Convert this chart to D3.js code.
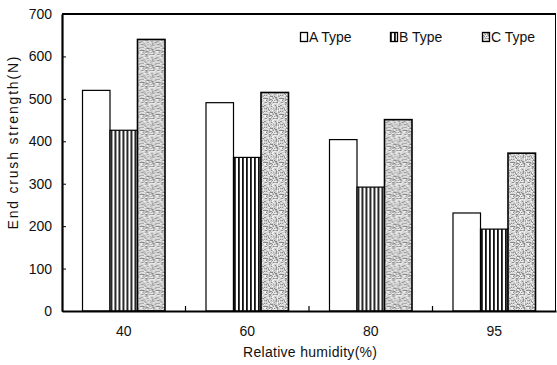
<!DOCTYPE html>
<html>
<head>
<meta charset="utf-8">
<script src="https://cdn.jsdelivr.net/npm/d3@7"></script>
<style>
    body { margin: 0; background: #fff; }
    svg { display: block; font-family: "Liberation Sans", Arial, sans-serif; }
</style>
</head>
<body>
<div id="chart"></div>
<script>
var humidity = ['40', '60', '80', '95']
var seriesNames = ['A Type', 'B Type', 'C Type']
var aType = [520, 491, 404, 231]
var bType = [426, 362, 292, 193]
var cType = [640, 515, 451, 372]
var yTicks = [0, 100, 200, 300, 400, 500, 600, 700]

var width = 557, height = 365
var margin = {top: 14, right: 1, bottom: 54, left: 62}

var svg = d3.select('#chart').append('svg')
    .attr('width', width)
    .attr('height', height)

var defs = svg.append('defs')

// vertical stripes for B
var stripes = defs.append('pattern')
    .attr('id', 'stripes')
    .attr('patternUnits', 'userSpaceOnUse')
    .attr('width', 4).attr('height', 4)
stripes.append('rect').attr('width', 4).attr('height', 4).attr('fill', '#fff')
stripes.append('rect').attr('x', 0).attr('width', 1.8).attr('height', 4).attr('fill', '#111')

// grey stipple for C (a fixed hashed tile, texture only)
var tile = 16
var stipple = defs.append('pattern')
    .attr('id', 'stipple')
    .attr('patternUnits', 'userSpaceOnUse')
    .attr('width', tile).attr('height', tile)
stipple.append('rect').attr('width', tile).attr('height', tile).attr('fill', '#cfcfcf')
for (var py = 0; py < tile; ++py) {
    for (var px = 0; px < tile; ++px) {
        var h = ((px * 73856093) ^ (py * 19349663) ^ ((px + py) * 83492791)) >>> 0
        h = (h * 2654435761) >>> 0
        var r = (h >>> 8) % 100
        var c = null
        if (r < 14) c = '#8a8a8a'
        else if (r < 30) c = '#a8a8a8'
        else if (r < 45) c = '#e6e6e6'
        else if (r < 55) c = '#f4f4f4'
        if (c)
            stipple.append('rect')
                .attr('x', px).attr('y', py)
                .attr('width', 1).attr('height', 1)
                .attr('fill', c)
    }
}

var fills = ['#fff', 'url(#stripes)', 'url(#stipple)']

var x0 = d3.scaleBand()
    .domain(humidity)
    .range([margin.left, width - margin.right])
    .paddingInner(0.332)
    .paddingOuter(0.166)

var x1 = d3.scaleBand()
    .domain(seriesNames)
    .range([0, x0.bandwidth()])

var y = d3.scaleLinear()
    .domain([0, 700])
    .range([height - margin.bottom, margin.top])

var rows = humidity.map(function(h, i) {
    return {h: h, values: [aType[i], bType[i], cType[i]]}
})

// bars
var groups = svg.append('g').selectAll('g')
    .data(rows)
    .enter().append('g')
    .attr('transform', function(d) { return 'translate(' + x0(d.h) + ',0)' })

groups.selectAll('rect')
    .data(function(d) { return d.values.map(function(v, k) { return {k: k, v: v} }) })
    .enter().append('rect')
    .attr('x', function(d) { return x1(seriesNames[d.k]) })
    .attr('y', function(d) { return y(d.v) })
    .attr('width', x1.bandwidth())
    .attr('height', function(d) { return y(0) - y(d.v) })
    .attr('fill', function(d) { return fills[d.k] })
    .attr('stroke', '#000')
    .attr('stroke-width', function(d) { return d.k === 2 ? 1.6 : 1.2 })

// frame
var x0px = margin.left, x1px = width - margin.right
svg.append('line').attr('x1', x0px).attr('x2', x1px).attr('y1', y(700)).attr('y2', y(700))
    .attr('stroke', '#000').attr('stroke-width', 2)
svg.append('line').attr('x1', x1px - 0.5).attr('x2', x1px - 0.5).attr('y1', y(700)).attr('y2', y(0))
    .attr('stroke', '#000').attr('stroke-width', 1)

// y axis
var yAxis = svg.append('g')
    .attr('transform', 'translate(' + margin.left + ',0)')
    .call(d3.axisLeft(y).tickValues(yTicks).tickSizeInner(-4).tickSizeOuter(0).tickPadding(10))
yAxis.select('.domain').attr('stroke-width', 2.2)
yAxis.selectAll('text').attr('font-size', 14).attr('fill', '#111')

// x axis
var xAxis = svg.append('g')
    .attr('transform', 'translate(0,' + y(0) + ')')
    .call(d3.axisBottom(x0).tickSize(0).tickPadding(15))
xAxis.select('.domain').attr('stroke-width', 2.2)
xAxis.selectAll('text').attr('font-size', 14).attr('fill', '#111')

// small ticks between groups
var step = x0.step()
svg.append('g').selectAll('line')
    .data(humidity.slice(1))
    .enter().append('line')
    .attr('x1', function(d) { return x0(d) - x0.paddingOuter() * step })
    .attr('x2', function(d) { return x0(d) - x0.paddingOuter() * step })
    .attr('y1', y(0)).attr('y2', y(0) - 5)
    .attr('stroke', '#000').attr('stroke-width', 1.2)

// axis titles
svg.append('text')
    .attr('x', 310).attr('y', 357)
    .attr('text-anchor', 'middle')
    .attr('font-size', 14)
    .attr('textLength', 134).attr('lengthAdjust', 'spacing')
    .attr('fill', '#111')
    .text('Relative humidity(%)')

svg.append('text')
    .attr('transform', 'translate(18,143) rotate(-90)')
    .attr('text-anchor', 'middle')
    .attr('font-size', 14)
    .attr('textLength', 173).attr('lengthAdjust', 'spacing')
    .attr('fill', '#111')
    .text('End crush strength(N)')

// legend
var legendX = [300, 390, 482]
var legend = svg.append('g').selectAll('g')
    .data(seriesNames)
    .enter().append('g')
    .attr('transform', function(d, i) { return 'translate(' + legendX[i] + ',32)' })
legend.append('rect')
    .attr('x', 0.5).attr('y', 0.5)
    .attr('width', 7).attr('height', 9)
    .attr('fill', function(d, i) { return fills[i] })
    .attr('stroke', '#000').attr('stroke-width', 1.3)
legend.append('text')
    .attr('x', 9).attr('y', 10)
    .attr('font-size', 14)
    .attr('fill', '#111')
    .text(function(d) { return d })
</script>
</body>
</html>
